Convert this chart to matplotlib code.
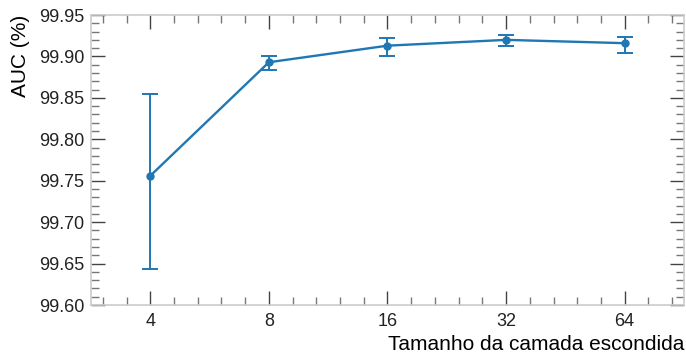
import matplotlib
matplotlib.use("Agg")
import matplotlib.pyplot as plt
from matplotlib.ticker import MultipleLocator, FormatStrFormatter

# ===== DATA =====
hidden_sizes = ["4", "8", "16", "32", "64"]
auc_mean = [99.756, 99.893, 99.913, 99.920, 99.916]
err_low = [0.113, 0.009, 0.013, 0.008, 0.012]
err_high = [0.099, 0.008, 0.009, 0.006, 0.008]

plt.rcParams["font.family"] = ["Liberation Sans", "DejaVu Sans"]

fig = plt.figure(figsize=(6.86, 3.54), dpi=100)
ax = fig.add_axes([0.1327, 0.1384, 0.8643, 0.8192])

x = list(range(len(hidden_sizes)))
ax.errorbar(x, auc_mean, yerr=[err_low, err_high], fmt="o-", color="#1f77b4",
            ms=5, lw=1.7, elinewidth=1.4, capsize=6, capthick=1.4)

ax.set_xlim(-0.5, 4.5)
ax.set_ylim(99.60, 99.95)
ax.set_xticks(x)
ax.set_xticklabels(hidden_sizes)
ax.xaxis.set_minor_locator(MultipleLocator(0.2))
ax.yaxis.set_major_locator(MultipleLocator(0.05))
ax.yaxis.set_minor_locator(MultipleLocator(0.01))
ax.yaxis.set_major_formatter(FormatStrFormatter("%.2f"))

ax.tick_params(which="both", direction="in", top=True, right=True,
               labelcolor="#222222", labelsize=13)
ax.tick_params(which="major", length=10, width=1, color="#444444", pad=5)
ax.tick_params(which="minor", length=5.5, width=1, color="#777777")
ax.tick_params(axis="x", which="major", pad=6)
for s in ax.spines.values():
    s.set_color("#cccccc")
    s.set_linewidth(1.2)

ax.set_ylabel("AUC (%)", fontsize=15, loc="top", labelpad=6)
ax.set_xlabel("Tamanho da camada escondida", fontsize=15, loc="right", labelpad=3)

fig.savefig("out.png", dpi=100)
